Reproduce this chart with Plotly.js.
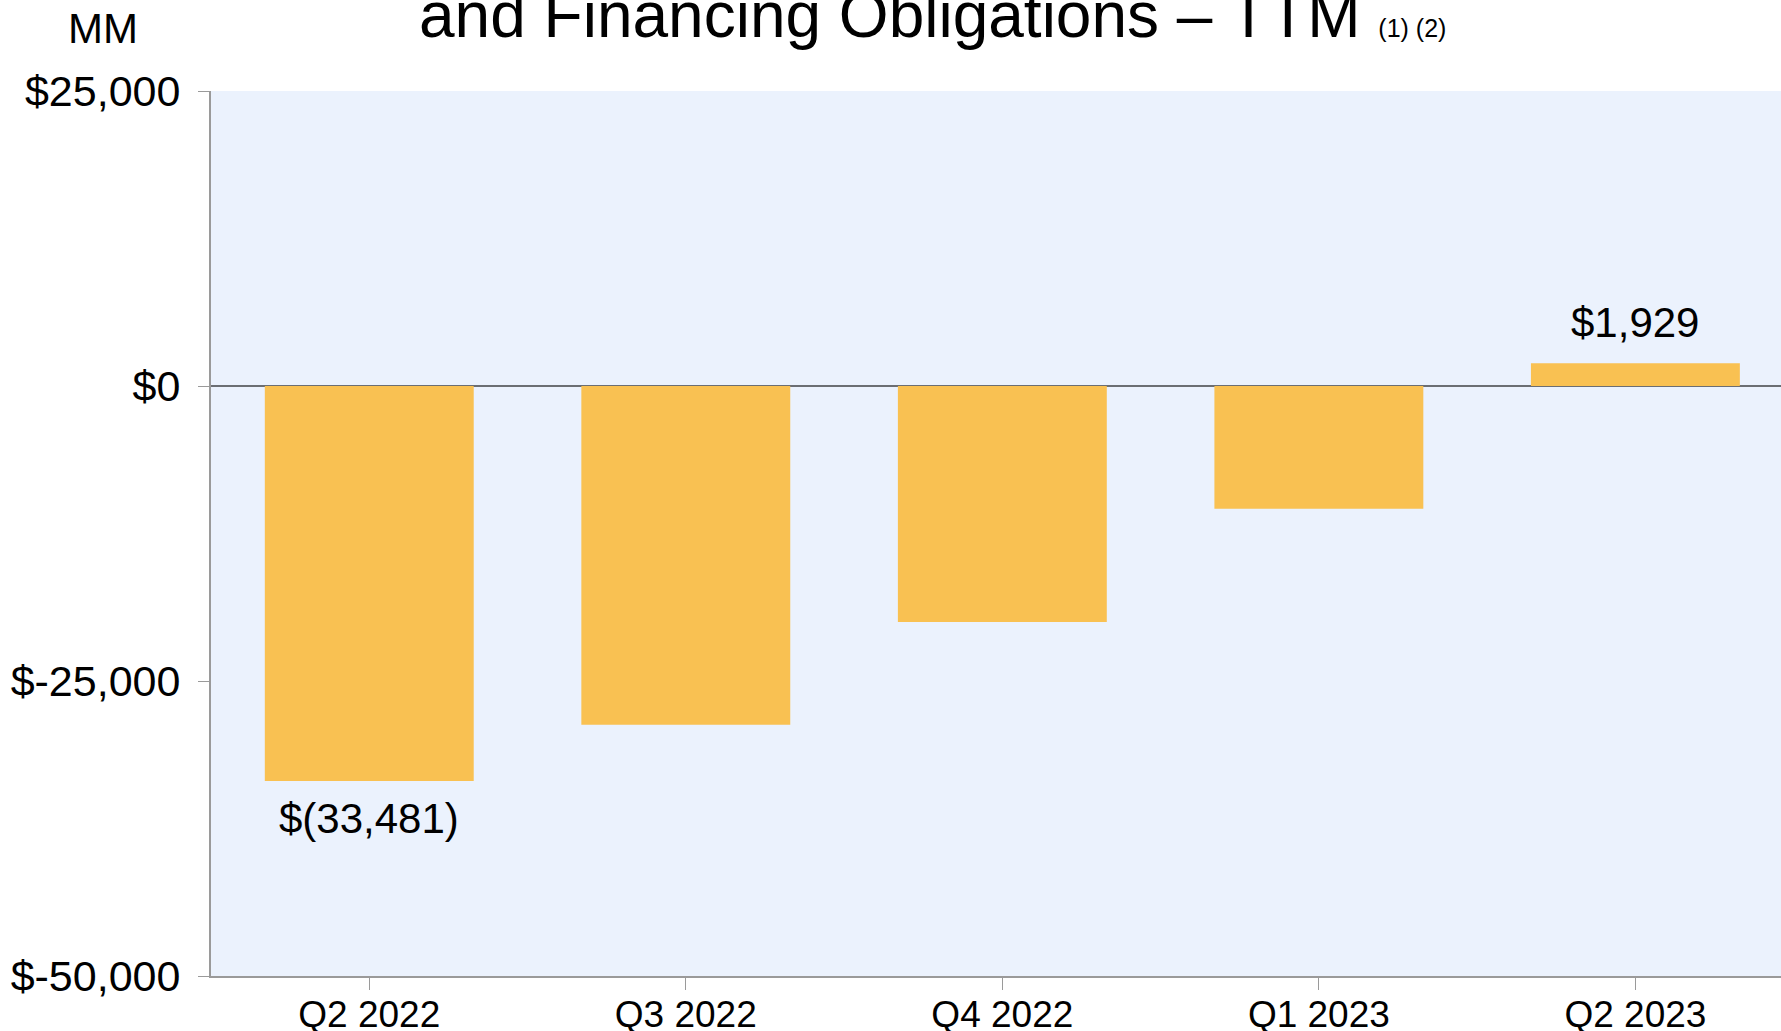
<!DOCTYPE html>
<html>
<head>
<meta charset="utf-8">
<script src="https://cdn.plot.ly/plotly-3.0.1.min.js"></script>
<style>
  html, body { margin: 0; padding: 0; background: #ffffff; }
  #chart { width: 1781px; height: 1031px; }
</style>
</head>
<body>
<div id="chart"></div>
<script>
// ---- data ----
const categories = ["Q2 2022", "Q3 2022", "Q4 2022", "Q1 2023", "Q2 2023"];
const values = [-33481, -28700, -20000, -10400, 1929];
const labeledIndices = [0, 4];
const yTickVals = [-50000, -25000, 0, 25000];
const yTickText = ["$-50,000", "$-25,000", "$0", "$25,000"];
const titleLine1 = "Free Cash Flow Less Principal Repayments of All Finance Leases";
const titleLine2 = "and Financing Obligations – TTM";
const titleNotes = "(1) (2)";
const unitLabel = "MM";

function fmtMoney(v) {
  const s = Math.abs(v).toLocaleString("en-US");
  return v < 0 ? "$(" + s + ")" : "$" + s;
}

const FONT = "Liberation Sans, Arial, Helvetica, sans-serif";

const trace = {
  type: "bar",
  x: categories,
  y: values,
  marker: { color: "#F9C152", line: { width: 0 } },
  hoverinfo: "x+y"
};

const annotations = labeledIndices.map(i => ({
  x: categories[i],
  y: values[i],
  xref: "x",
  yref: "y",
  text: fmtMoney(values[i]),
  showarrow: false,
  yanchor: values[i] < 0 ? "top" : "bottom",
  yshift: values[i] < 0 ? -12 : 15,
  font: { family: FONT, size: 42, color: "#000000" }
}));

annotations.push({
  xref: "paper", yref: "paper",
  x: 0.461, y: 1.1797,
  xanchor: "center", yanchor: "middle",
  text: titleLine1,
  showarrow: false,
  font: { family: FONT, size: 64, color: "#000000" }
});
annotations.push({
  xref: "paper", yref: "paper",
  x: 0.4595, y: 1.0859,
  xanchor: "center", yanchor: "middle",
  text: titleLine2 + " <span style=\"font-size:25px\">" + titleNotes + "</span>",
  showarrow: false,
  font: { family: FONT, size: 64, color: "#000000" }
});
annotations.push({
  xref: "paper", yref: "paper",
  x: -0.069, y: 1.0705,
  xanchor: "center", yanchor: "middle",
  text: unitLabel,
  showarrow: false,
  font: { family: FONT, size: 42, color: "#000000" }
});

const layout = {
  width: 1781,
  height: 1031,
  margin: { l: 211, r: 0, t: 91, b: 55, pad: 0 },
  paper_bgcolor: "#ffffff",
  plot_bgcolor: "#EBF2FD",
  showlegend: false,
  bargap: 0.34,
  font: { family: FONT, color: "#000000" },
  xaxis: {
    type: "category",
    range: [-0.5, 4.46],
    showgrid: false,
    zeroline: false,
    showline: true,
    linecolor: "#9a9a9a",
    linewidth: 2,
    ticks: "outside",
    ticklen: 12,
    tickwidth: 1,
    tickcolor: "#9a9a9a",
    ticklabelstandoff: -7,
    tickfont: { family: FONT, size: 37, color: "#000000" },
    fixedrange: true
  },
  yaxis: {
    range: [-50000, 25000],
    tickvals: yTickVals,
    ticktext: yTickText,
    showgrid: false,
    zeroline: true,
    zerolinecolor: "#6b6e73",
    zerolinewidth: 2,
    showline: true,
    linecolor: "#9a9a9a",
    linewidth: 2,
    ticks: "outside",
    ticklen: 11,
    tickwidth: 1,
    tickcolor: "#9a9a9a",
    ticklabelstandoff: 9,
    tickfont: { family: FONT, size: 43, color: "#000000" },
    fixedrange: true
  },
  annotations: annotations
};

Plotly.newPlot("chart", [trace], layout, { displayModeBar: false, staticPlot: true });
</script>
</body>
</html>
